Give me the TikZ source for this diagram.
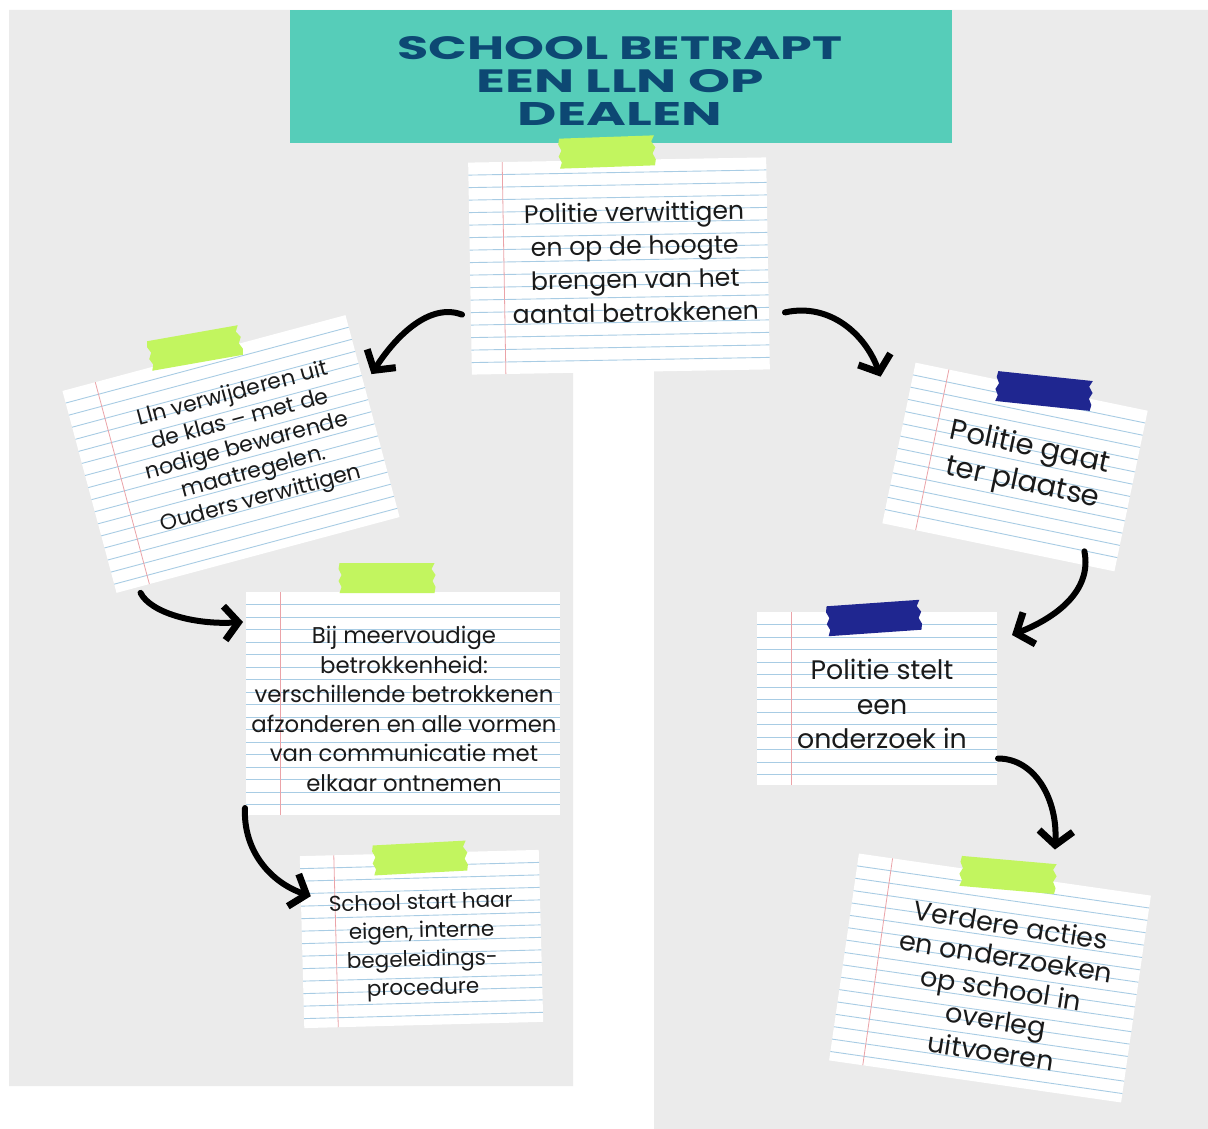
\documentclass[tikz,border=0pt]{standalone}
\usepackage{fontspec}
\usepackage{graphicx}
\setmainfont{Poppins}
\usetikzlibrary{arrows.meta,calc}
\definecolor{bggray}{HTML}{EBEBEB}
\definecolor{tealhead}{HTML}{56CDB9}
\definecolor{titleblue}{HTML}{0D4873}
\definecolor{limetape}{HTML}{C2F55F}
\definecolor{navytape}{HTML}{1F2690}
\definecolor{ruleblue}{HTML}{A8CCE4}
\definecolor{marginred}{HTML}{EBA3A8}
\definecolor{ink}{HTML}{1A1A1A}
\tikzset{
  rulestyle/.style={ruleblue, line width=0.9pt},
  marginstyle/.style={marginred, line width=0.8pt},
  cardnode/.style={inner sep=0pt, outer sep=0pt},
  cardtext/.style={text=ink, align=center, inner sep=0pt},
  brush/.style={line width=6pt, line cap=round, black,
    -{Straight Barb[length=14pt,width=34pt,line width=7pt]}},
}
\newcommand\notepaper[5]{%
  \begin{scope}[shift={(#1,#2)},rotate=#3]
    \fill[white] (-#4/2,-#5/2) rectangle (#4/2,#5/2);
    \pgfmathtruncatemacro\nrules{(#5-6)/12.5}
    \foreach \k in {1,...,\nrules}{\draw[rulestyle] (-#4/2,-#5/2+12.5*\k) -- (#4/2,-#5/2+12.5*\k);}
    \draw[marginstyle] (-#4/2+34,-#5/2) -- (-#4/2+34,#5/2);
  \end{scope}}
\newcommand\tapestrip[5]{%
  \begin{scope}[shift={(#1,#2)},rotate=#3]
    \fill[#5] (-#4/2,-15) -- (#4/2,-15) -- (#4/2-3,-9) -- (#4/2+1,-3) -- (#4/2-2,3) -- (#4/2+1,9) -- (#4/2,15)
      -- (-#4/2,15) -- (-#4/2+2,9) -- (-#4/2-1,3) -- (-#4/2+2,-3) -- (-#4/2-1,-9) -- cycle;
  \end{scope}}
\begin{document}
\begin{tikzpicture}[x=1pt,y=-1pt]
\useasboundingbox[fill=white] (0,0) rectangle (1208,1129);
% background panels
\fill[bggray] (9,10) -- (1208,10) -- (1208,1129) -- (654,1129) -- (654,365) -- (573,365) -- (573,1086) -- (9,1086) -- cycle;
% header
\fill[tealhead] (290,10) rectangle (952,143);
\node[font=\bfseries\fontsize{31}{33}\selectfont, text=titleblue, align=center, inner sep=0pt] (title) at (620,81)
  {\resizebox{445pt}{23pt}{SCHOOL BETRAPT}\\\resizebox{287pt}{23pt}{EEN LLN OP}\\\resizebox{204pt}{23pt}{DEALEN}};
% papers
\notepaper{619}{266}{1}{298}{212}
\notepaper{231}{454}{15}{293}{209}
\notepaper{403}{703.5}{0}{314}{223}
\notepaper{421.5}{939}{1.5}{239}{172}
\notepaper{1015}{467}{-11.7}{237}{164}
\notepaper{877}{698.5}{0}{240}{173}
\notepaper{990}{978}{-8.2}{295}{209}
% card nodes
\node[cardnode, minimum width=298pt, minimum height=212pt, rotate=1] (c1) at (619,266) {};
\node[cardnode, minimum width=293pt, minimum height=209pt, rotate=15] (c2) at (231,454) {};
\node[cardnode, minimum width=314pt, minimum height=223pt] (c3) at (403,703.5) {};
\node[cardnode, minimum width=239pt, minimum height=172pt, rotate=1.5] (c4) at (421.5,939) {};
\node[cardnode, minimum width=237pt, minimum height=164pt, rotate=-11.7] (c5) at (1015,467) {};
\node[cardnode, minimum width=240pt, minimum height=173pt] (c6) at (877,698.5) {};
\node[cardnode, minimum width=295pt, minimum height=209pt, rotate=-8.2] (c7) at (990,978) {};
% texts
\node[cardtext, rotate=1, font=\fontsize{25.2}{33.5}\selectfont] (t1) at (635,262)
  {Politie verwittigen\\en op de hoogte\\brengen van het\\aantal betrokkenen};
\node[cardtext, rotate=15, font=\fontsize{22}{27}\selectfont] (t2) at (247,447)
  {Lln verwijderen uit\\de klas – met de\\nodige bewarende\\maatregelen.\\Ouders verwittigen};
\node[cardtext, font=\fontsize{22.8}{29.5}\selectfont] (t3) at (404,709)
  {Bij meervoudige\\betrokkenheid:\\verschillende betrokkenen\\afzonderen en alle vormen\\van communicatie met\\elkaar ontnemen};
\node[cardtext, rotate=1.5, font=\fontsize{21.5}{28.5}\selectfont] (t4) at (422,947)
  {School start haar\\eigen, interne\\begeleidings-\\procedure};
\node[cardtext, rotate=-12, font=\fontsize{29}{36}\selectfont] (t5) at (1026,466)
  {Politie gaat\\ter plaatse};
\node[cardtext, font=\fontsize{26.8}{34.5}\selectfont] (t6) at (882,704)
  {Politie stelt\\een\\onderzoek in};
\node[cardtext, rotate=-9, font=\fontsize{27}{32}\selectfont] (t7) at (1001,988)
  {Verdere acties\\en onderzoeken\\op school in\\overleg\\uitvoeren};
% tapes
\tapestrip{607}{152}{2}{95}{limetape}
\tapestrip{195}{348}{10}{92}{limetape}
\tapestrip{387}{578}{0}{95}{limetape}
\tapestrip{420}{858}{3}{93}{limetape}
\tapestrip{1044}{391}{-6}{95}{navytape}
\tapestrip{874}{618}{4}{93}{navytape}
\tapestrip{1008}{875}{-5}{95}{limetape}
% arrows
\draw[brush] ($(c1.west)+(-8,46)$) .. controls ($(c1.west)+(-40,34)$) and ($(c2.east)+(24,-81)$) .. ($(c2.east)+(-1,-42)$);
\draw[brush] ($(c1.east)+(17,49)$) .. controls ($(c1.east)+(62,39)$) and ($(c5.north west)+(-50,-28)$) .. ($(c5.north west)+(-35,14)$);
\draw[brush] ($(c2.south west)+(24,0)$) .. controls ($(c2.south west)+(34,20)$) and ($(c3.north west)+(-51,33)$) .. ($(c3.north west)+(-3,30)$);
\draw[brush] ($(c3.south west)+(-1,-7)$) .. controls ($(c3.south west)+(-3,35)$) and ($(c4.north west)+(-30,26)$) .. ($(c4.north west)+(11,40)$);
\draw[brush] ($(c5.south east)+(-30,-20)$) .. controls ($(c5.south east)+(-22,20)$) and ($(c6.north east)+(58,6)$) .. ($(c6.north east)+(15,23)$);
\draw[brush] ($(c6.east)+(1,60)$) .. controls ($(c6.east)+(38,60)$) and ($(c7.north)+(53,-75)$) .. ($(c7.north)+(50,-25)$);
\end{tikzpicture}
\end{document}
